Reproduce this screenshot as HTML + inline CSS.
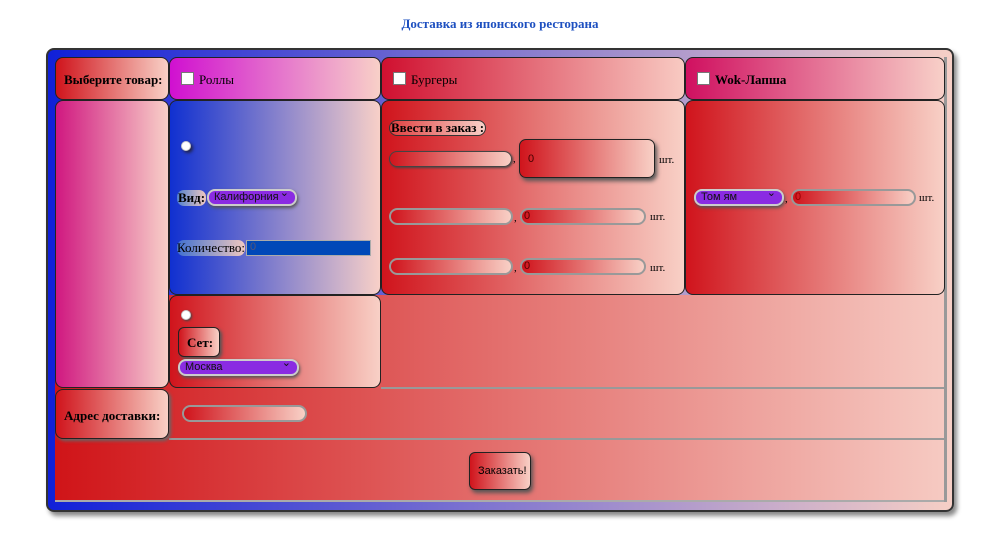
<!DOCTYPE html>
<html><head><meta charset="utf-8"><style>
body{margin:0;width:1000px;height:536px;background:#fff;font-family:"Liberation Serif","DejaVu Serif",serif;position:relative;overflow:hidden}
.a{position:absolute;box-sizing:border-box}
.title{left:0;width:1000px;top:16px;text-align:center;color:#1e50c0;font-weight:bold;font-size:13px}
.outer{left:46px;top:48px;width:908px;height:464px;border-radius:8px;border:2px solid #333;background:linear-gradient(90deg,#1020d8,#f6cfc6);box-shadow:3px 4px 5px #888}
.cell{border:1px solid #222;border-radius:8px}
.red{background:linear-gradient(90deg,#d0141c,#f8d0c6)}
.rowbg{background:linear-gradient(90deg,#d01418,#f6cac2)}
.b{font-weight:bold;font-size:13px}
.cb{width:11px;height:11px;background:#fff;border:1px solid #777;display:inline-block;vertical-align:-1px;margin-right:5px}
.inp{border:2px solid #999;border-radius:9px;background:linear-gradient(90deg,#d0141c,#f8d0c6)}
.sel{background:#8a2be2;border:2px solid #ccc;border-radius:8px;font-family:"Liberation Sans","DejaVu Sans",sans-serif;font-size:11px;color:#111;padding-left:5px;line-height:13px;box-shadow:1px 2px 3px #555}
.sel:after{content:"⌄";position:absolute;right:6px;top:-4px;font-size:11px}
.s{font-size:11px}
.n{font-family:"Liberation Sans",sans-serif;font-size:11px}
</style></head><body>
<div class="a title">Доставка из японского ресторана</div>
<div class="a outer"></div>
<div class="a rowbg" style="left:55px;top:295px;width:890px;height:207px;border-bottom:2px solid #aaa"></div>
<div class="a" style="left:381px;top:387px;width:564px;height:2px;background:#999"></div>
<div class="a" style="left:169px;top:438px;width:776px;height:2px;background:#999"></div>
<div class="a" style="left:944px;top:57px;width:3px;height:445px;background:#999"></div>

<div class="a cell red b" style="left:55px;top:57px;width:114px;height:43px;padding:14px 0 0 8px">Выберите товар:</div>
<div class="a cell" style="left:169px;top:57px;width:212px;height:43px;background:linear-gradient(90deg,#d010d0,#f8d0c8);padding:14px 0 0 11px;font-size:13px"><span class="cb"></span>Роллы</div>
<div class="a cell" style="left:381px;top:57px;width:304px;height:43px;background:linear-gradient(90deg,#d01030,#f8cac2);padding:14px 0 0 11px;font-size:13px"><span class="cb"></span>Бургеры</div>
<div class="a cell b" style="left:685px;top:57px;width:260px;height:43px;background:linear-gradient(90deg,#d01060,#f8d0c8);padding:14px 0 0 11px"><span class="cb"></span>Wok-Лапша</div>

<div class="a cell" style="left:55px;top:100px;width:114px;height:288px;background:linear-gradient(90deg,#d01880,#f8d0c8)"></div>

<div class="a cell" style="left:169px;top:100px;width:212px;height:195px;background:linear-gradient(90deg,#1030d0,#f8d0c8)"></div>
<div class="a" style="left:181px;top:141px;width:10px;height:10px;border-radius:50%;background:#fff;border:1px solid #ccc;box-shadow:2px 2px 3px #224"></div>
<div class="a b" style="left:177px;top:190px;background:linear-gradient(90deg,#5080d0,#f0c8c0);border-radius:7px;padding:0 1px">Вид:</div>
<div class="a sel" style="left:207px;top:189px;width:90px;height:17px">Калифорния</div>
<div class="a" style="left:177px;top:240px;font-size:13px;background:linear-gradient(90deg,#4070d0,#f0c8c0);border-radius:7px">Количество:</div>
<div class="a n" style="left:246px;top:240px;width:125px;height:16px;background:#0048b8;border:1px solid #aaa;color:#557;padding-left:3px">0</div>

<div class="a cell red" style="left:381px;top:100px;width:304px;height:195px"></div>
<div class="a b" style="left:389px;top:120px;border:1px solid #333;border-radius:8px;background:linear-gradient(90deg,#e04040,#f8d0c8);padding:0 1px;line-height:14px">Ввести в заказ :</div>
<div class="a inp" style="left:389px;top:151px;width:123px;height:16px;border:1px solid #444;box-shadow:1px 1px 2px #444"></div>
<div class="a s" style="left:513px;top:153px">,</div>
<div class="a cell red n" style="left:519px;top:139px;width:136px;height:39px;border-radius:7px;box-shadow:2px 3px 4px #555;padding:13px 0 0 8px;color:#400">0</div>
<div class="a s" style="left:659px;top:154px">шт.</div>
<div class="a inp" style="left:389px;top:208px;width:124px;height:17px"></div>
<div class="a s" style="left:514px;top:212px">,</div>
<div class="a inp n" style="left:520px;top:208px;width:126px;height:17px;padding-left:2px;line-height:13px;color:#500">0</div>
<div class="a s" style="left:650px;top:211px">шт.</div>
<div class="a inp" style="left:389px;top:258px;width:124px;height:17px"></div>
<div class="a s" style="left:514px;top:262px">,</div>
<div class="a inp n" style="left:520px;top:258px;width:126px;height:17px;padding-left:2px;line-height:13px;color:#500">0</div>
<div class="a s" style="left:650px;top:262px">шт.</div>

<div class="a cell red" style="left:685px;top:100px;width:260px;height:195px"></div>
<div class="a sel" style="left:694px;top:189px;width:90px;height:17px">Том ям</div>
<div class="a s" style="left:785px;top:193px">,</div>
<div class="a inp n" style="left:791px;top:189px;width:125px;height:17px;padding-left:2px;line-height:13px;color:#900">0</div>
<div class="a s" style="left:919px;top:192px">шт.</div>

<div class="a cell red" style="left:169px;top:295px;width:212px;height:93px"></div>
<div class="a" style="left:181px;top:310px;width:10px;height:10px;border-radius:50%;background:#fff;border:1px solid #ccc;box-shadow:1px 1px 2px #444"></div>
<div class="a cell red b" style="left:178px;top:327px;width:42px;height:30px;border-radius:6px;padding:7px 0 0 8px;box-shadow:2px 2px 3px #555">Сет:</div>
<div class="a sel" style="left:178px;top:359px;width:121px;height:17px">Москва</div>

<div class="a cell red b" style="left:55px;top:389px;width:114px;height:50px;padding:18px 0 0 8px;box-shadow:2px 2px 3px #666">Адрес доставки:</div>
<div class="a inp" style="left:182px;top:405px;width:125px;height:17px"></div>

<div class="a cell red n" style="left:469px;top:452px;width:62px;height:38px;border-radius:6px;box-shadow:2px 3px 4px #555;padding:12px 0 0 8px">Заказать!</div>
</body></html>
